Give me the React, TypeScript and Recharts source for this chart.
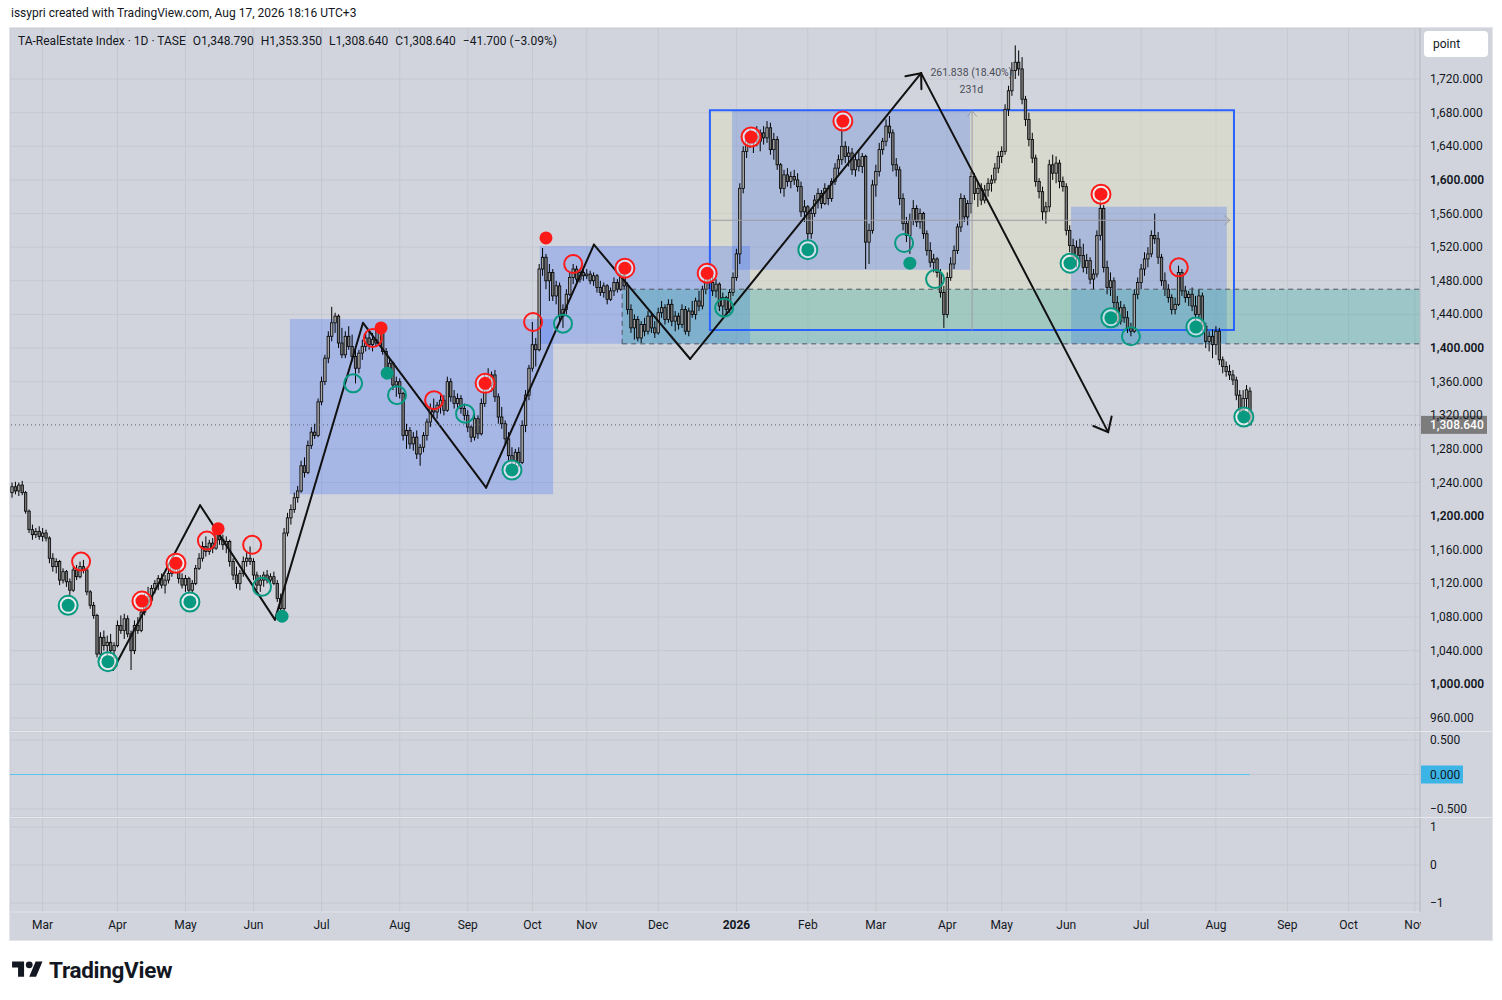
import React from 'react';
import {
  ComposedChart,
  Bar,
  Scatter,
  XAxis,
  YAxis,
  CartesianGrid,
  ReferenceArea,
  ReferenceLine,
  ReferenceDot,
} from 'recharts';

const BG = '#d1d4dc';
const GRID = '#c5c8d1';
const TEXT = '#131722';
const AXIS_LINE = '#b9bcc5';
const SEP = '#e6e8ee';
const BLUE = '#2962ff';
const TEAL = '#26a69a';
const RED = '#ff1a1a';
const GREEN = '#089981';
const FONT = 'Roboto, "Noto Sans", sans-serif';

// daily bars [open, high, low, close], Feb 2025 -> Aug 2026
const ohlc: number[][] = [
  [1228,1240,1222,1235],[1235,1241,1226,1230],[1230,1240,1224,1237],[1237,1242,1225,1228],[1228,1230,1203,1206],
  [1206,1208,1180,1184],[1184,1190,1172,1178],[1178,1186,1174,1182],[1182,1188,1172,1176],[1176,1186,1170,1180],
  [1180,1184,1170,1174],[1174,1176,1144,1150],[1150,1156,1134,1140],[1140,1150,1132,1146],[1146,1148,1118,1124],
  [1124,1138,1120,1134],[1134,1136,1116,1122],[1122,1126,1104,1112],[1112,1140,1110,1136],[1136,1142,1124,1128],
  [1128,1146,1126,1140],[1140,1148,1132,1136],[1136,1138,1106,1110],[1110,1112,1090,1094],[1094,1098,1078,1082],
  [1082,1084,1032,1036],[1036,1062,1030,1056],[1056,1064,1040,1046],[1046,1058,1028,1050],[1050,1060,1036,1040],
  [1040,1050,1030,1046],[1046,1076,1044,1070],[1070,1082,1060,1064],[1064,1084,1054,1078],[1078,1082,1056,1060],
  [1060,1064,1017,1040],[1040,1076,1036,1070],[1070,1080,1060,1064],[1064,1090,1062,1086],[1086,1108,1082,1104],
  [1104,1116,1094,1100],[1100,1118,1096,1114],[1114,1124,1108,1120],[1120,1130,1112,1126],[1126,1132,1114,1118],
  [1118,1130,1108,1124],[1124,1136,1120,1132],[1132,1146,1128,1142],[1142,1150,1134,1138],[1138,1148,1120,1126],
  [1126,1132,1114,1118],[1118,1130,1110,1126],[1126,1128,1108,1112],[1112,1124,1108,1120],[1120,1142,1118,1138],
  [1138,1156,1136,1150],[1150,1170,1146,1164],[1164,1176,1152,1158],[1158,1172,1154,1168],[1168,1174,1156,1162],
  [1162,1190,1160,1184],[1184,1188,1166,1172],[1172,1178,1160,1166],[1166,1176,1156,1170],[1170,1172,1140,1146],
  [1146,1150,1124,1130],[1130,1140,1114,1120],[1120,1136,1112,1132],[1132,1152,1128,1146],[1146,1158,1140,1150],
  [1150,1164,1142,1146],[1146,1150,1124,1130],[1130,1134,1112,1118],[1118,1130,1110,1124],[1124,1134,1116,1130],
  [1130,1136,1120,1124],[1124,1132,1116,1128],[1128,1134,1118,1120],[1120,1124,1098,1102],[1102,1108,1080,1090],
  [1090,1186,1086,1180],[1180,1204,1176,1198],[1198,1214,1190,1208],[1208,1228,1204,1222],[1222,1236,1216,1230],
  [1230,1266,1228,1260],[1260,1270,1246,1252],[1252,1290,1250,1284],[1284,1306,1280,1300],[1300,1310,1292,1296],
  [1296,1340,1294,1336],[1336,1366,1332,1360],[1360,1392,1356,1388],[1388,1420,1382,1414],[1414,1449,1408,1430],
  [1430,1442,1418,1438],[1438,1440,1400,1406],[1406,1424,1388,1392],[1392,1420,1388,1414],[1414,1426,1398,1402],
  [1402,1416,1384,1390],[1390,1402,1358,1376],[1376,1398,1370,1394],[1394,1410,1386,1402],[1402,1418,1396,1412],
  [1412,1420,1398,1404],[1404,1418,1396,1410],[1410,1422,1402,1406],[1406,1428,1404,1420],[1420,1424,1392,1396],
  [1396,1400,1370,1376],[1376,1388,1366,1382],[1382,1384,1350,1356],[1356,1366,1342,1360],[1360,1364,1340,1346],
  [1346,1348,1290,1296],[1296,1310,1280,1302],[1302,1306,1280,1286],[1286,1300,1278,1294],[1294,1302,1268,1274],
  [1274,1286,1260,1282],[1282,1300,1276,1296],[1296,1316,1290,1312],[1312,1334,1306,1328],[1328,1340,1318,1324],
  [1324,1336,1316,1332],[1332,1346,1322,1338],[1338,1344,1320,1326],[1326,1366,1324,1360],[1360,1364,1336,1342],
  [1342,1350,1328,1334],[1334,1346,1326,1340],[1340,1344,1322,1328],[1328,1334,1314,1320],[1320,1326,1300,1306],
  [1306,1308,1288,1294],[1294,1322,1290,1316],[1316,1320,1292,1298],[1298,1340,1296,1334],[1334,1368,1330,1362],
  [1362,1376,1350,1356],[1356,1372,1348,1368],[1368,1374,1336,1342],[1342,1346,1310,1318],[1318,1330,1304,1310],
  [1310,1314,1286,1292],[1292,1300,1266,1272],[1272,1282,1258,1266],[1266,1280,1256,1276],[1276,1282,1258,1264],
  [1264,1314,1262,1308],[1308,1350,1300,1344],[1344,1380,1338,1376],[1376,1431,1372,1404],[1404,1412,1378,1398],
  [1398,1500,1396,1494],[1494,1519,1486,1508],[1508,1512,1470,1480],[1480,1500,1456,1490],[1490,1494,1456,1462],
  [1462,1480,1452,1474],[1474,1478,1430,1438],[1438,1452,1424,1446],[1446,1470,1440,1464],[1464,1490,1462,1484],
  [1484,1500,1476,1494],[1494,1498,1478,1482],[1482,1494,1478,1490],[1490,1496,1480,1486],[1486,1494,1482,1488],
  [1488,1492,1476,1480],[1480,1490,1474,1486],[1486,1488,1466,1472],[1472,1480,1462,1466],[1466,1478,1460,1474],
  [1474,1476,1452,1458],[1458,1472,1456,1468],[1468,1484,1462,1478],[1478,1482,1466,1470],[1470,1490,1468,1486],
  [1486,1496,1470,1474],[1474,1478,1440,1446],[1446,1452,1418,1424],[1424,1440,1410,1434],[1434,1438,1408,1412],
  [1412,1432,1406,1428],[1428,1436,1414,1420],[1420,1444,1416,1438],[1438,1442,1418,1424],[1424,1432,1412,1418],
  [1418,1448,1416,1442],[1442,1456,1436,1448],[1448,1452,1428,1434],[1434,1458,1430,1452],[1452,1458,1426,1432],
  [1432,1444,1420,1438],[1438,1442,1422,1428],[1428,1452,1424,1446],[1446,1450,1416,1420],[1420,1448,1414,1444],
  [1444,1456,1436,1440],[1440,1460,1434,1456],[1456,1468,1444,1450],[1450,1474,1446,1470],[1470,1492,1464,1484],
  [1484,1494,1470,1478],[1478,1486,1462,1468],[1468,1482,1460,1476],[1476,1478,1444,1450],[1450,1466,1438,1460],
  [1460,1462,1440,1446],[1446,1470,1442,1466],[1466,1490,1462,1484],[1484,1518,1480,1512],[1512,1596,1500,1590],
  [1590,1640,1584,1634],[1634,1654,1626,1648],[1648,1660,1638,1644],[1644,1658,1632,1652],[1652,1664,1640,1646],
  [1646,1660,1634,1656],[1656,1664,1642,1650],[1650,1670,1644,1662],[1662,1668,1630,1636],[1636,1656,1624,1648],
  [1648,1652,1612,1618],[1618,1620,1584,1590],[1590,1612,1580,1606],[1606,1614,1592,1598],[1598,1610,1590,1604],
  [1604,1612,1594,1600],[1600,1608,1586,1592],[1592,1598,1556,1562],[1562,1576,1550,1568],[1568,1570,1528,1536],
  [1536,1566,1530,1560],[1560,1582,1556,1576],[1576,1590,1566,1584],[1584,1588,1566,1572],[1572,1596,1570,1590],
  [1590,1594,1570,1578],[1578,1602,1574,1598],[1598,1620,1594,1614],[1614,1630,1606,1624],[1624,1672,1618,1640],
  [1640,1646,1620,1628],[1628,1640,1616,1632],[1632,1638,1606,1612],[1612,1630,1604,1624],[1624,1636,1610,1616],
  [1616,1632,1608,1628],[1628,1630,1494,1526],[1526,1548,1500,1540],[1540,1600,1536,1594],[1594,1618,1580,1610],
  [1610,1644,1604,1636],[1636,1650,1630,1646],[1646,1672,1640,1664],[1664,1676,1650,1656],[1656,1660,1610,1618],
  [1618,1626,1604,1612],[1612,1616,1570,1578],[1578,1584,1540,1548],[1548,1556,1526,1534],[1534,1560,1512,1552],
  [1552,1576,1546,1566],[1566,1570,1544,1550],[1550,1566,1542,1560],[1560,1562,1530,1536],[1536,1540,1510,1516],
  [1516,1526,1496,1502],[1502,1512,1490,1506],[1506,1508,1484,1490],[1490,1494,1460,1466],[1466,1474,1424,1440],
  [1440,1490,1436,1484],[1484,1508,1480,1500],[1500,1522,1494,1516],[1516,1548,1512,1544],[1544,1584,1538,1578],
  [1578,1582,1550,1556],[1556,1576,1546,1572],[1572,1610,1560,1604],[1604,1608,1576,1584],[1584,1598,1568,1590],
  [1590,1596,1570,1576],[1576,1594,1572,1588],[1588,1602,1580,1596],[1596,1606,1586,1600],[1600,1620,1596,1614],
  [1614,1634,1608,1628],[1628,1640,1620,1634],[1634,1690,1630,1684],[1684,1712,1676,1706],[1706,1740,1700,1730],
  [1730,1760,1720,1740],[1740,1754,1724,1732],[1732,1746,1690,1696],[1696,1700,1664,1672],[1672,1680,1640,1648],
  [1648,1656,1620,1626],[1626,1630,1592,1598],[1598,1602,1578,1586],[1586,1592,1552,1562],[1562,1574,1548,1568],
  [1568,1624,1562,1618],[1618,1630,1600,1608],[1608,1628,1596,1620],[1620,1624,1590,1598],[1598,1604,1586,1592],
  [1592,1596,1534,1540],[1540,1546,1514,1522],[1522,1530,1500,1508],[1508,1528,1496,1520],[1520,1530,1502,1510],
  [1510,1524,1490,1496],[1496,1512,1488,1504],[1504,1508,1476,1482],[1482,1494,1470,1488],[1488,1540,1484,1534],
  [1534,1576,1528,1566],[1566,1570,1490,1496],[1496,1504,1464,1472],[1472,1490,1462,1480],[1480,1484,1446,1454],
  [1454,1462,1426,1432],[1432,1456,1428,1448],[1448,1452,1430,1436],[1436,1444,1418,1424],[1424,1430,1414,1420],
  [1420,1470,1418,1464],[1464,1484,1458,1478],[1478,1500,1470,1494],[1494,1514,1486,1506],[1506,1520,1496,1512],
  [1512,1540,1508,1534],[1534,1560,1524,1530],[1530,1538,1500,1508],[1508,1512,1474,1480],[1480,1490,1462,1470],
  [1470,1476,1454,1460],[1460,1464,1440,1446],[1446,1460,1440,1452],[1452,1498,1450,1490],[1490,1494,1462,1468],
  [1468,1474,1454,1460],[1460,1468,1450,1464],[1464,1472,1444,1450],[1450,1462,1432,1440],[1440,1470,1434,1462],
  [1462,1466,1420,1426],[1426,1430,1400,1408],[1408,1420,1396,1414],[1414,1422,1388,1404],[1404,1426,1392,1420],
  [1420,1424,1380,1386],[1386,1390,1370,1378],[1378,1384,1366,1372],[1372,1380,1362,1368],[1368,1374,1356,1362],
  [1362,1366,1338,1344],[1344,1350,1320,1326],[1326,1350,1314,1340],[1340,1356,1328,1350.34],[1348.79,1353.35,1308.64,1308.64],
];

const monthTicks = [9, 31, 51, 71, 91, 114, 134, 153, 169, 190, 213, 234, 254, 275, 291, 310, 332, 354, 375, 393, 412.5];
const monthLabels = ['Mar', 'Apr', 'May', 'Jun', 'Jul', 'Aug', 'Sep', 'Oct', 'Nov', 'Dec', '2026', 'Feb', 'Mar', 'Apr', 'May', 'Jun', 'Jul', 'Aug', 'Sep', 'Oct', 'Nov'];
const priceTicks = [960, 1000, 1040, 1080, 1120, 1160, 1200, 1240, 1280, 1320, 1360, 1400, 1440, 1480, 1520, 1560, 1600, 1640, 1680, 1720];
const oscTicks = [0.5, 0, -0.5];
const lowerTicks = [1, 0, -1];
const lastClose = 1308.64;

// zigzag pivots [bar, price]
const zigzag = [[29.7, 1017], [55.3, 1213], [77.3, 1077], [103.2, 1430], [139.4, 1234], [171.1, 1523], [199.4, 1387], [267.3, 1727], [322.3, 1300]];

// drawn boxes [x1, x2, y1, y2]
const blueBoxes = [[81.7, 159.1, 1226, 1434.5], [155.2, 217, 1405, 1521.5], [211.7, 281.7, 1493, 1683], [311.4, 357.2, 1405, 1568]];
const rangeBox = [205.2, 359.3, 1421.5, 1683];
const zone = [179.4, 414, 1405, 1470];
const rangeMidPrice = 1552;
const rangeMidBar = 282.3;

// range tool readout [bar, price, text]
const rangeNotes: [number, number, string][] = [
  [282.1, 1728, '261.838 (18.40%)'],
  [282.1, 1707, '231d'],
];

// signal markers [bar, price]
const greenBoth = [[16.5, 1094], [28.2, 1027], [52.3, 1098], [147, 1255], [234, 1517], [311.1, 1501], [323.1, 1436], [348.1, 1425], [362.2, 1318]];
const greenDot = [[79.4, 1081], [110.3, 1370], [264, 1501]];
const greenRing = [[73.5, 1116], [100.3, 1358], [113.2, 1344], [133.2, 1322], [162, 1429], [209.4, 1448], [262.3, 1525], [271.4, 1482], [329, 1414]];
const redBoth = [[38.2, 1099], [48.2, 1144], [139.1, 1358], [180.2, 1495], [204.4, 1489], [217.3, 1651], [244.3, 1670], [320.2, 1583]];
const redDot = [[60.6, 1185], [108.5, 1424], [157, 1531]];
const redRing = [[20.3, 1146], [57.3, 1171], [70.6, 1166], [106.1, 1412], [124.1, 1338], [153.2, 1431], [165, 1500], [343.1, 1496]];

const X_DOMAIN = [-0.6, 414];
const PRICE_DOMAIN = [944.5, 1780.7];

const candles = ohlc.map(([o, h, l, c], i) => ({ i, o, h, l, c, range: [l, h] }));
const pts = (arr: number[][]) => arr.map(([i, p]) => ({ i, p }));

const fmt3 = (v: number) =>
  v.toLocaleString('en-US', { minimumFractionDigits: 3, maximumFractionDigits: 3 }).replace('-', '\u2212');

const Candle = (props: any) => {
  const { x, y, width, height, payload } = props;
  if (x == null || !payload) return null;
  const { o, h, l, c } = payload;
  const top = Math.min(y, y + height);
  const span = Math.abs(height);
  const py = (v: number) => (h === l ? top : top + ((h - v) / (h - l)) * span);
  const cx = x + width / 2;
  const bTop = py(Math.max(o, c));
  const bBot = py(Math.min(o, c));
  return (
    <g>
      <line x1={cx} x2={cx} y1={top} y2={top + span} stroke="#000" strokeWidth={1} />
      <rect
        x={cx - 1.2}
        y={bTop}
        width={2.4}
        height={Math.max(bBot - bTop, 1)}
        fill={c >= o ? '#a4a4a4' : '#777777'}
        stroke="#000"
        strokeWidth={0.8}
      />
    </g>
  );
};

const segShape = (arrow: boolean, color: string, width: number, len: number) => (p: any) => {
  const { x1, y1, x2, y2 } = p;
  if ([x1, y1, x2, y2].some((v) => v == null || Number.isNaN(v))) return null;
  const a = Math.atan2(y2 - y1, x2 - x1);
  const s = 0.7;
  const head = `${x2 - len * Math.cos(a - s)},${y2 - len * Math.sin(a - s)} ${x2},${y2} ${x2 - len * Math.cos(a + s)},${y2 - len * Math.sin(a + s)}`;
  return (
    <g>
      <line x1={x1} y1={y1} x2={x2} y2={y2} stroke={color} strokeWidth={width} strokeLinecap="round" />
      {arrow && <polyline points={head} fill="none" stroke={color} strokeWidth={width} strokeLinecap="round" />}
    </g>
  );
};

const ring = (color: string) => (p: any) => (
  <circle cx={p.cx} cy={p.cy} r={9} fill="none" stroke={color} strokeWidth={2} />
);
const dot = (color: string) => (p: any) => <circle cx={p.cx} cy={p.cy} r={6.5} fill={color} />;
const both = (color: string) => (p: any) => (
  <g>
    <circle cx={p.cx} cy={p.cy} r={9.5} fill="rgba(255,255,255,0.55)" stroke={color} strokeWidth={2} />
    <circle cx={p.cx} cy={p.cy} r={6.5} fill={color} />
  </g>
);

const PriceTick = (p: any) => {
  const v = p.payload.value;
  return (
    <text x={p.x} y={p.y} dy={4} textAnchor="start" fontSize={12} fontFamily={FONT} fill={TEXT} fontWeight={v % 200 === 0 ? 600 : 400}>
      {fmt3(v)}
    </text>
  );
};

const OscTick = (p: any) => {
  const v = p.payload.value;
  return (
    <g>
      {v === 0 && <rect x={p.x - 9} y={p.y - 9} width={42} height={18} fill="#3db4e6" />}
      <text x={p.x} y={p.y} dy={4} textAnchor="start" fontSize={12} fontFamily={FONT} fill={TEXT}>
        {fmt3(v)}
      </text>
    </g>
  );
};

const LowerTick = (p: any) => (
  <text x={p.x} y={p.y} dy={4} textAnchor="start" fontSize={12} fontFamily={FONT} fill={TEXT}>
    {String(p.payload.value).replace('-', '\u2212')}
  </text>
);

const TimeTick = (p: any) => {
  const label = monthLabels[monthTicks.indexOf(p.payload.value)];
  return (
    <text x={p.x} y={p.y + 13} textAnchor="middle" dominantBaseline="central" fontSize={12} fontFamily={FONT} fill={TEXT} fontWeight={label === '2026' ? 700 : 400}>
      {label}
    </text>
  );
};

const priceTag = (p: any) => {
  const vb = p.viewBox || {};
  const x = vb.x + vb.width + 1;
  return (
    <g>
      <rect x={x} y={vb.y - 9} width={66} height={18} fill="#7c7c7c" />
      <text x={x + 9} y={vb.y} dy={4} fontSize={12} fontFamily={FONT} fill="#fff" fontWeight={500}>
        {fmt3(lastClose)}
      </text>
    </g>
  );
};

const note = (txt: string) => (p: any) => (
  <text x={p.cx} y={p.cy} textAnchor="middle" dominantBaseline="central" fontSize={10.5} fontFamily={FONT} fill="#4a4d57">
    {txt}
  </text>
);

const MARGIN = { top: 0, right: 0, bottom: 0, left: 0 };

export default function App() {
  return (
    <div style={{ position: 'relative', width: 1502, height: 1000, background: '#fff', fontFamily: FONT, overflow: 'hidden' }}>
      <style>{'body{margin:0}'}</style>
      <div style={{ position: 'absolute', left: 11, top: 6, fontSize: 12, color: TEXT }}>
        issypri created with TradingView.com, Aug 17, 2026 18:16 UTC+3
      </div>
      <div style={{ position: 'absolute', left: 9, top: 27, width: 1484, height: 914, background: BG, border: '1px solid #e3e5ea', boxSizing: 'border-box' }} />

      <div style={{ position: 'absolute', left: 10, top: 28 }}>
        <ComposedChart width={1482} height={703} data={candles} margin={MARGIN}>
          <CartesianGrid stroke={GRID} />
          <XAxis dataKey="i" type="number" domain={X_DOMAIN} ticks={monthTicks} hide allowDataOverflow />
          <YAxis
            orientation="right"
            type="number"
            domain={PRICE_DOMAIN}
            ticks={priceTicks}
            interval={0}
            width={72}
            allowDataOverflow
            tickLine={false}
            tickSize={0}
            tickMargin={10}
            axisLine={{ stroke: AXIS_LINE }}
            tick={PriceTick}
          />
          <ReferenceArea x1={rangeBox[0]} x2={rangeBox[1]} y1={rangeBox[2]} y2={rangeBox[3]} fill="#e8e6b0" fillOpacity={0.3} stroke="none" ifOverflow="hidden" />
          {blueBoxes.map((b, k) => (
            <ReferenceArea key={`b${k}`} x1={b[0]} x2={b[1]} y1={b[2]} y2={b[3]} fill={BLUE} fillOpacity={0.26} stroke="none" ifOverflow="hidden" />
          ))}
          <ReferenceArea x1={zone[0]} x2={zone[1]} y1={zone[2]} y2={zone[3]} fill={TEAL} fillOpacity={0.3} stroke="none" ifOverflow="hidden" />
          <ReferenceLine segment={[{ x: zone[0], y: zone[3] }, { x: zone[1], y: zone[3] }]} stroke="#4d5560" strokeDasharray="5 4" ifOverflow="visible" />
          <ReferenceLine segment={[{ x: zone[0], y: zone[2] }, { x: zone[1], y: zone[2] }]} stroke="#4d5560" strokeDasharray="5 4" ifOverflow="visible" />
          <ReferenceLine segment={[{ x: zone[0], y: zone[2] }, { x: zone[0], y: zone[3] }]} stroke="#4d5560" strokeDasharray="5 4" ifOverflow="visible" />
          <ReferenceLine
            segment={[{ x: rangeBox[0], y: rangeMidPrice }, { x: rangeBox[1] - 1.2, y: rangeMidPrice }]}
            shape={segShape(true, '#9a9da6', 1, 7)}
            ifOverflow="visible"
          />
          <ReferenceLine
            segment={[{ x: rangeMidBar, y: rangeBox[2] }, { x: rangeMidBar, y: rangeBox[3] - 1 }]}
            shape={segShape(true, '#9a9da6', 1, 7)}
            ifOverflow="visible"
          />
          <ReferenceArea x1={rangeBox[0]} x2={rangeBox[1]} y1={rangeBox[2]} y2={rangeBox[3]} fill="none" stroke={BLUE} strokeWidth={2} ifOverflow="hidden" />

          <Bar dataKey="range" barSize={3} shape={Candle} isAnimationActive={false} />

          {zigzag.slice(1).map((pt, k) => (
            <ReferenceLine
              key={`z${k}`}
              segment={[{ x: zigzag[k][0], y: zigzag[k][1] }, { x: pt[0], y: pt[1] }]}
              shape={segShape(k >= zigzag.length - 3, '#111111', 2, 16)}
              ifOverflow="visible"
            />
          ))}

          <Scatter data={pts(greenBoth)} dataKey="p" shape={both(GREEN)} isAnimationActive={false} />
          <Scatter data={pts(greenDot)} dataKey="p" shape={dot(GREEN)} isAnimationActive={false} />
          <Scatter data={pts(greenRing)} dataKey="p" shape={ring(GREEN)} isAnimationActive={false} />
          <Scatter data={pts(redBoth)} dataKey="p" shape={both(RED)} isAnimationActive={false} />
          <Scatter data={pts(redDot)} dataKey="p" shape={dot(RED)} isAnimationActive={false} />
          <Scatter data={pts(redRing)} dataKey="p" shape={ring(RED)} isAnimationActive={false} />

          {rangeNotes.map(([bx, py, txt]) => (
            <ReferenceDot key={txt} x={bx} y={py} r={0} shape={note(txt)} ifOverflow="visible" />
          ))}

          <ReferenceLine y={lastClose} stroke="#5d606b" strokeDasharray="1 3" label={priceTag} ifOverflow="visible" />
        </ComposedChart>
      </div>

      <div style={{ position: 'absolute', left: 10, top: 731, width: 1482, height: 1, background: SEP }} />

      <div style={{ position: 'absolute', left: 10, top: 732 }}>
        <ComposedChart width={1482} height={85} data={candles} margin={MARGIN}>
          <CartesianGrid stroke={GRID} />
          <XAxis dataKey="i" type="number" domain={X_DOMAIN} ticks={monthTicks} hide allowDataOverflow />
          <YAxis
            orientation="right"
            type="number"
            domain={[-0.616, 0.616]}
            ticks={oscTicks}
            interval={0}
            width={72}
            allowDataOverflow
            tickLine={false}
            tickSize={0}
            tickMargin={10}
            axisLine={{ stroke: AXIS_LINE }}
            tick={OscTick}
          />
          <ReferenceLine segment={[{ x: -0.6, y: 0 }, { x: 364, y: 0 }]} stroke="#5ec2ea" strokeWidth={1} ifOverflow="visible" />
        </ComposedChart>
      </div>

      <div style={{ position: 'absolute', left: 10, top: 817, width: 1482, height: 1, background: SEP }} />

      <div style={{ position: 'absolute', left: 10, top: 818 }}>
        <ComposedChart width={1482} height={122} data={candles} margin={MARGIN}>
          <CartesianGrid stroke={GRID} />
          <XAxis
            dataKey="i"
            type="number"
            domain={X_DOMAIN}
            ticks={monthTicks}
            interval={0}
            height={28}
            allowDataOverflow
            tickLine={false}
            tickSize={0}
            tickMargin={0}
            axisLine={{ stroke: SEP }}
            tick={TimeTick}
          />
          <YAxis
            orientation="right"
            type="number"
            domain={[-1.237, 1.237]}
            ticks={lowerTicks}
            interval={0}
            width={72}
            allowDataOverflow
            tickLine={false}
            tickSize={0}
            tickMargin={10}
            axisLine={{ stroke: AXIS_LINE }}
            tick={LowerTick}
          />
        </ComposedChart>
      </div>

      <div style={{ position: 'absolute', left: 1421, top: 913, width: 70, height: 26, background: BG }} />

      <div
        style={{
          position: 'absolute',
          left: 1424,
          top: 31,
          width: 64,
          height: 26,
          background: '#fff',
          borderRadius: 4,
          fontSize: 12,
          color: TEXT,
          lineHeight: '26px',
          paddingLeft: 9,
          boxSizing: 'border-box',
        }}
      >
        point
      </div>

      <div style={{ position: 'absolute', left: 18, top: 34, fontSize: 12, color: TEXT, display: 'flex', gap: 7, whiteSpace: 'nowrap' }}>
        <span>TA-RealEstate Index · 1D · TASE</span>
        <span>O1,348.790</span>
        <span>H1,353.350</span>
        <span>L1,308.640</span>
        <span>C1,308.640</span>
        <span>−41.700 (−3.09%)</span>
      </div>

      <div style={{ position: 'absolute', left: 12, top: 957, display: 'flex', alignItems: 'center', gap: 6 }}>
        <svg width={31} height={24} viewBox="0 0 36 28">
          <path d="M14 22H7V11H0V4h14v18zM28 22h-8l7.5-18h8L28 22z" fill={TEXT} />
          <circle cx={20} cy={8} r={4} fill={TEXT} />
        </svg>
        <span style={{ fontSize: 22.5, fontWeight: 700, color: TEXT, letterSpacing: -0.3 }}>TradingView</span>
      </div>
    </div>
  );
}
